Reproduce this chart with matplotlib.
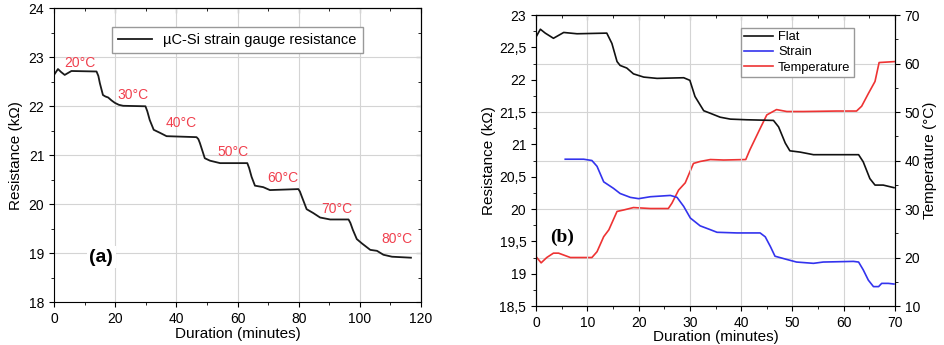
import matplotlib.pyplot as plt
from matplotlib.ticker import MultipleLocator, FuncFormatter

plt.rcParams['font.family'] = ['Liberation Sans', 'DejaVu Sans']

# panel (a): strain gauge resistance vs time
t_a = [0, 1.3, 2.3, 3.5, 4.6, 5.7, 13.9, 14.5, 15, 16, 16.8, 17.7, 18.8, 19.9, 21.2, 22.6,
       29.9, 30.5, 31.3, 32.6, 34.6, 36.8, 46.6, 47.2, 47.7, 49.3, 51, 54.3, 63.2, 63.8,
       64.6, 65.7, 68.4, 70.6, 79.9, 80.4, 81, 82.6, 84.8, 87, 90.3, 96.3, 96.9, 97.7, 99,
       100.7, 103.4, 105.6, 107.7, 110.5, 116.7]
r_a = [22.64, 22.76, 22.7, 22.64, 22.68, 22.72, 22.71, 22.62, 22.47, 22.23, 22.2, 22.18,
       22.12, 22.07, 22.03, 22.01, 22.0, 21.9, 21.72, 21.52, 21.46, 21.39, 21.37, 21.33,
       21.25, 20.94, 20.89, 20.84, 20.84, 20.74, 20.56, 20.38, 20.35, 20.29, 20.31, 20.26,
       20.16, 19.9, 19.82, 19.73, 19.69, 19.69, 19.62, 19.48, 19.29, 19.2, 19.07, 19.05,
       18.97, 18.93, 18.91]
temp_labels = ['20°C', '30°C', '40°C', '50°C', '60°C', '70°C', '80°C']
lab_t = [8.4, 25.9, 41.7, 58.6, 74.8, 92.5, 112]
lab_r = [22.89, 22.23, 21.65, 21.07, 20.53, 19.9, 19.29]

# panel (b): flat, strain, temperature
t_flat = [0, 0.85, 1.8, 3.4, 5.4, 8, 13.8, 14.8, 15.8, 16.4, 17.7, 19, 21, 23.6, 28.8, 30,
          31, 32.7, 34, 35.9, 37.9, 41.1, 46.3, 47.3, 48.6, 49.5, 51.5, 54.1, 58.6, 62.9,
          63.8, 65.1, 66.1, 67.7, 69.8]
r_flat = [22.66, 22.78, 22.72, 22.64, 22.73, 22.71, 22.72, 22.56, 22.28, 22.22, 22.18, 22.09,
          22.04, 22.02, 22.03, 21.99, 21.74, 21.52, 21.48, 21.42, 21.39, 21.38, 21.37, 21.27,
          21.02, 20.9, 20.88, 20.84, 20.84, 20.84, 20.73, 20.47, 20.37, 20.37, 20.33]
t_strain = [5.7, 9.3, 10.9, 11.9, 13.2, 15.1, 16.4, 18.4, 20, 22.3, 26.2, 27.5, 28.8, 30.1,
            32, 34, 35.3, 39.2, 43.7, 44.7, 45.7, 46.6, 48.9, 50.8, 54.1, 56, 61.9, 62.9,
            63.8, 64.8, 65.8, 66.8, 67.4, 68.7, 69.8]
r_strain = [20.77, 20.77, 20.75, 20.66, 20.42, 20.32, 20.24, 20.18, 20.16, 20.19, 20.21, 20.18,
            20.04, 19.86, 19.74, 19.68, 19.64, 19.63, 19.63, 19.57, 19.42, 19.27, 19.22, 19.18,
            19.16, 19.18, 19.19, 19.18, 19.06, 18.9, 18.8, 18.8, 18.85, 18.85, 18.84]
t_temp = [0, 1, 2.1, 3.4, 4.4, 6.7, 10.9, 11.9, 13.2, 14.2, 15.8, 17.1, 19, 22.3, 25.8, 26.5,
          27.8, 29.1, 30.7, 32, 34, 36.6, 40.9, 41.7, 43.7, 45, 46.9, 48.9, 52.1, 58.6, 62.5,
          63.5, 64.8, 66.1, 66.9, 70]
temp = [20.2, 18.9, 20.0, 20.9, 20.9, 20.0, 20.0, 21.2, 24.3, 25.7, 29.5, 29.8, 30.3, 30.1,
        30.1, 31.2, 33.9, 35.4, 39.4, 39.8, 40.2, 40.1, 40.2, 42.2, 46.6, 49.4, 50.5, 50.1,
        50.1, 50.2, 50.2, 51.2, 53.8, 56.3, 60.2, 60.4]

fig = plt.figure(figsize=(9.44, 3.45), dpi=100)
grid_kw = dict(color='#d4d4d4', lw=0.8)
red = '#f0404e'

# ---- panel (a)
ax1 = fig.add_axes([0.0572, 0.1238, 0.3888, 0.8522])
ax1.plot(t_a, r_a, color='#1a1a1a', lw=1.3, label='µC-Si strain gauge resistance')
for s, x, y in zip(temp_labels, lab_t, lab_r):
    ax1.text(x, y, s, color=red, fontsize=10, ha='center', va='center')
ax1.text(15.5, 18.92, '(a)', fontsize=14, fontweight='bold', ha='center', va='center',
         bbox=dict(facecolor='white', edgecolor='none', pad=2))
ax1.set_xlim(0, 120)
ax1.set_ylim(18, 24)
ax1.xaxis.set_major_locator(MultipleLocator(20))
ax1.xaxis.set_minor_locator(MultipleLocator(10))
ax1.yaxis.set_major_locator(MultipleLocator(1))
ax1.yaxis.set_minor_locator(MultipleLocator(0.5))
ax1.grid(True, **grid_kw)
ax1.set_xlabel('Duration (minutes)', fontsize=11, labelpad=1)
ax1.set_ylabel('Resistance (kΩ)', fontsize=11, labelpad=4)
ax1.tick_params(which='both', direction='out', labelsize=10)
# mirrored inward ticks on top and right
ax1t = ax1.secondary_xaxis('top')
ax1t.xaxis.set_major_locator(MultipleLocator(20))
ax1t.xaxis.set_minor_locator(MultipleLocator(10))
ax1t.tick_params(which='both', direction='in', labeltop=False)
ax1r = ax1.secondary_yaxis('right')
ax1r.yaxis.set_major_locator(MultipleLocator(1))
ax1r.yaxis.set_minor_locator(MultipleLocator(0.5))
ax1r.tick_params(which='both', direction='in', labelright=False)
ax1.legend(loc='upper center', bbox_to_anchor=(0.5, 0.96), fontsize=10.5, fancybox=False,
           edgecolor='#999999', framealpha=1, handlelength=2.3, borderpad=0.4)

# ---- panel (b)
ax2 = fig.add_axes([0.5678, 0.113, 0.3803, 0.8435])
ax3 = ax2.twinx()
ax2.plot(t_flat, r_flat, color='#111111', lw=1.2, label='Flat')
ax2.plot(t_strain, r_strain, color='#3333ee', lw=1.2, label='Strain')
ax3.plot(t_temp, temp, color='#ee3333', lw=1.2, label='Temperature')
ax2.text(5.1, 19.56, '(b)', fontsize=14, fontweight='bold', family='Liberation Serif',
         ha='center', va='center')
ax2.set_xlim(0, 70)
ax2.set_ylim(18.5, 23)
ax3.set_ylim(10, 70)
ax2.xaxis.set_major_locator(MultipleLocator(10))
ax2.xaxis.set_minor_locator(MultipleLocator(5))
ax2.yaxis.set_major_locator(MultipleLocator(0.5))
ax2.yaxis.set_minor_locator(MultipleLocator(0.25))
ax3.yaxis.set_major_locator(MultipleLocator(10))
ax3.yaxis.set_minor_locator(MultipleLocator(5))
ax2.yaxis.set_major_formatter(FuncFormatter(lambda v, p: ('%g' % v).replace('.', ',')))
ax2.xaxis.grid(True, **grid_kw)
ax3.yaxis.grid(True, **grid_kw)
ax2.set_axisbelow(True)
ax3.set_axisbelow(True)
ax2.set_xlabel('Duration (minutes)', fontsize=11, labelpad=0)
ax2.set_ylabel('Resistance (kΩ)', fontsize=11, labelpad=2)
ax3.set_ylabel('Temperature (°C)', fontsize=11, labelpad=2)
ax2.tick_params(which='both', direction='out', labelsize=10)
ax3.tick_params(which='both', direction='out', labelsize=10)
ax2t = ax2.secondary_xaxis('top')
ax2t.xaxis.set_major_locator(MultipleLocator(10))
ax2t.xaxis.set_minor_locator(MultipleLocator(5))
ax2t.tick_params(which='both', direction='in', labeltop=False)
ax2.set_zorder(ax3.get_zorder() + 1)
ax2.patch.set_visible(False)
h1, l1 = ax2.get_legend_handles_labels()
h2, l2 = ax3.get_legend_handles_labels()
ax2.legend(h1 + h2, l1 + l2, loc='upper right', bbox_to_anchor=(0.892, 0.965), fontsize=9.3,
           fancybox=False, edgecolor='#999999', framealpha=1, handlelength=2.2,
           handletextpad=0.4, borderpad=0.25, labelspacing=0.25, borderaxespad=0.2)

fig.savefig('out.png', dpi=100)
